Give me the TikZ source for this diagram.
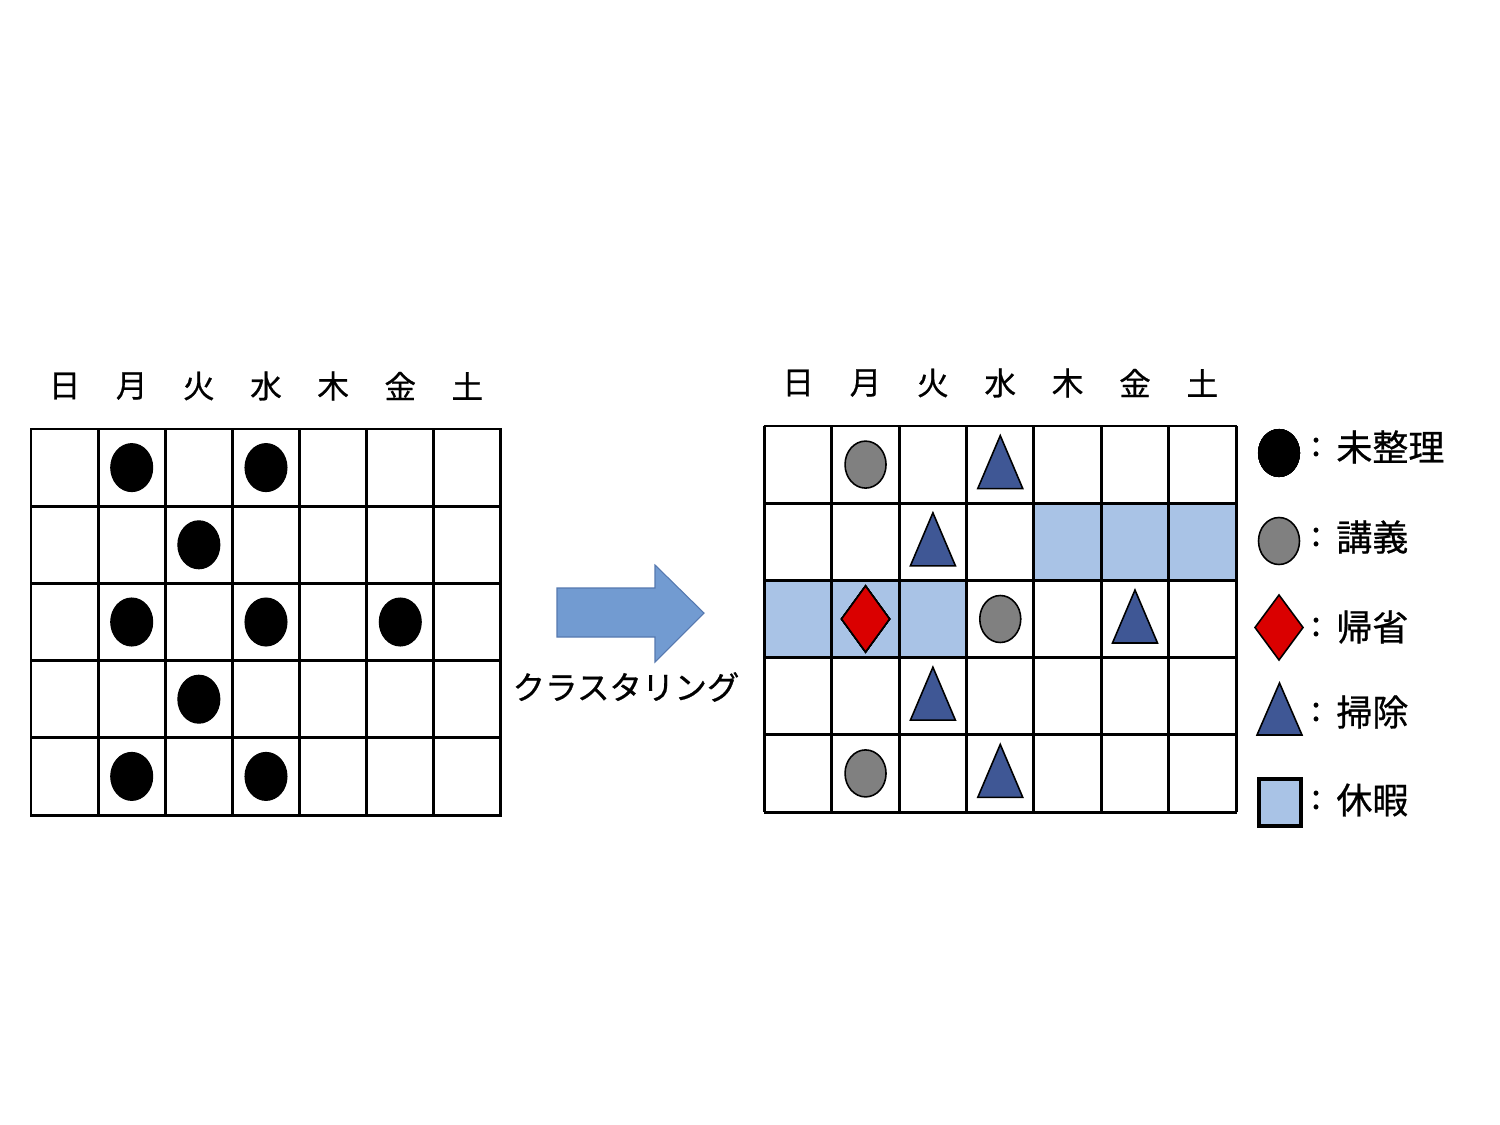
\documentclass[tikz,border=0pt]{standalone}
\usepackage{fontspec}
\newfontfamily\jp[FakeBold=0.7]{Noto Sans CJK JP}
\usetikzlibrary{shapes.geometric}
\definecolor{triblue}{RGB}{63,87,149}
\definecolor{vacblue}{RGB}{169,195,230}
\definecolor{arrowblue}{RGB}{114,155,209}
\definecolor{arrowedge}{RGB}{85,120,175}
\definecolor{diamred}{RGB}{218,0,0}
\definecolor{dotgray}{RGB}{128,128,128}
\tikzset{
  gridline/.style={line width=1.7pt, black},
  hdr/.style={font=\jp\fontsize{18pt}{20pt}\selectfont, inner sep=0pt},
  lbl/.style={font=\jp\fontsize{20.5pt}{22pt}\selectfont, inner sep=0pt, anchor=west},
  colon/.style={font=\jp\fontsize{19.5pt}{22pt}\selectfont, inner sep=0pt},
  blackdot/.style={fill=black, draw=black, line width=0.6pt},
  graydot/.style={fill=dotgray, draw=black, line width=0.9pt},
  tristyle/.style={fill=triblue, draw=black, line width=0.9pt, line join=miter},
  diamstyle/.style={fill=diamred, draw=black, line width=0.9pt, line join=miter},
  vacfill/.style={fill=vacblue, draw=none},
  blockarrow/.style={fill=arrowblue, draw=arrowedge, line width=0.6pt},
}
\newcommand\mytri[2]{\draw[tristyle] ({#1-22.5},{#2+24}) -- ({#1},{#2-29}) -- ({#1+22.5},{#2+24}) -- cycle;}
\newcommand\mydiam[2]{\draw[diamstyle] ({#1},{#2-33}) -- ({#1+24},{#2}) -- ({#1},{#2+33}) -- ({#1-24},{#2}) -- cycle;}
\begin{document}
\begin{tikzpicture}[x=0.02cm,y=-0.02cm]
\useasboundingbox (0,0) rectangle (1500,1125);
% ---------- left grid ----------
\def\Lx{31}\def\Ly{429}\def\Lw{67.14}\def\Lh{77.2}
\foreach \d [count=\i from 0] in {日,月,火,水,木,金,土}
  \node[hdr] (L\i) at ({\Lx+\Lw*(\i+0.5)},386) {\d};
\foreach \c/\r in {1/0,3/0,2/1,1/2,3/2,5/2,2/3,1/4,3/4}
  \fill[blackdot] ({\Lx+\Lw*(\c+0.5)},{\Ly+\Lh*(\r+0.5)}) ellipse [x radius=21, y radius=24];
\foreach \i in {0,...,7}
  \draw[gridline] ({\Lx+\Lw*\i},\Ly) -- ({\Lx+\Lw*\i},{\Ly+5*\Lh});
\foreach \j in {0,...,5}
  \draw[gridline] ({\Lx-1},{\Ly+\Lh*\j}) -- ({\Lx+7*\Lw+1},{\Ly+\Lh*\j});
% ---------- arrow ----------
\draw[blockarrow] (557,588) -- (655,588) -- (655,565) -- (704,613) -- (655,662) -- (655,637) -- (557,637) -- cycle;
\node[font=\jp\fontsize{18.5pt}{20pt}\selectfont, inner sep=0pt] (clus) at (626,687) {クラスタリング};
% ---------- right grid ----------
\def\Rx{764.5}\def\Ry{426}\def\Rw{67.36}\def\Rh{77.2}
\foreach \d [count=\i from 0] in {日,月,火,水,木,金,土}
  \node[hdr] (R\i) at ({\Rx+\Rw*(\i+0.5)},383) {\d};
\fill[vacfill] ({\Rx+4*\Rw},{\Ry+\Rh}) rectangle ({\Rx+7*\Rw},{\Ry+2*\Rh});
\fill[vacfill] ({\Rx},{\Ry+2*\Rh}) rectangle ({\Rx+3*\Rw},{\Ry+3*\Rh});
\foreach \i in {0,...,7}
  \draw[gridline] ({\Rx+\Rw*\i},\Ry) -- ({\Rx+\Rw*\i},{\Ry+5*\Rh});
\foreach \j in {0,...,5}
  \draw[gridline] ({\Rx-1},{\Ry+\Rh*\j}) -- ({\Rx+7*\Rw+1},{\Ry+\Rh*\j});
\foreach \c/\r in {1/0,3/2,1/4}
  \draw[graydot] ({\Rx+\Rw*(\c+0.5)},{\Ry+\Rh*(\r+0.5)}) ellipse [x radius=20.5, y radius=23.5];
\foreach \c/\r in {3/0,2/1,5/2,2/3,3/4}
  \mytri{\Rx+\Rw*(\c+0.5)}{\Ry+\Rh*(\r+0.5)}
\mydiam{\Rx+\Rw*1.5}{\Ry+\Rh*2.5}
% ---------- legend ----------
\fill[blackdot] (1279,453) ellipse [x radius=20.5, y radius=23.5];
\draw[graydot] (1279,541) ellipse [x radius=20.5, y radius=23.5];
\draw[diamstyle] (1279,595) -- (1303,627.5) -- (1279,660) -- (1255,627.5) -- cycle;
\draw[tristyle] (1257,735) -- (1279.5,683) -- (1302,735) -- cycle;
\draw[fill=vacblue, draw=black, line width=1.8pt] (1259,779) rectangle (1301,826);
\foreach \t/\y [count=\k] in {未整理/447, 講義/537, 帰省/627, 掃除/712, 休暇/800}{
  \node[colon] (c\k) at (1316,\y) {:};
  \node[lbl] (t\k) at (1336,\y) {\t};
}
\end{tikzpicture}
\end{document}
